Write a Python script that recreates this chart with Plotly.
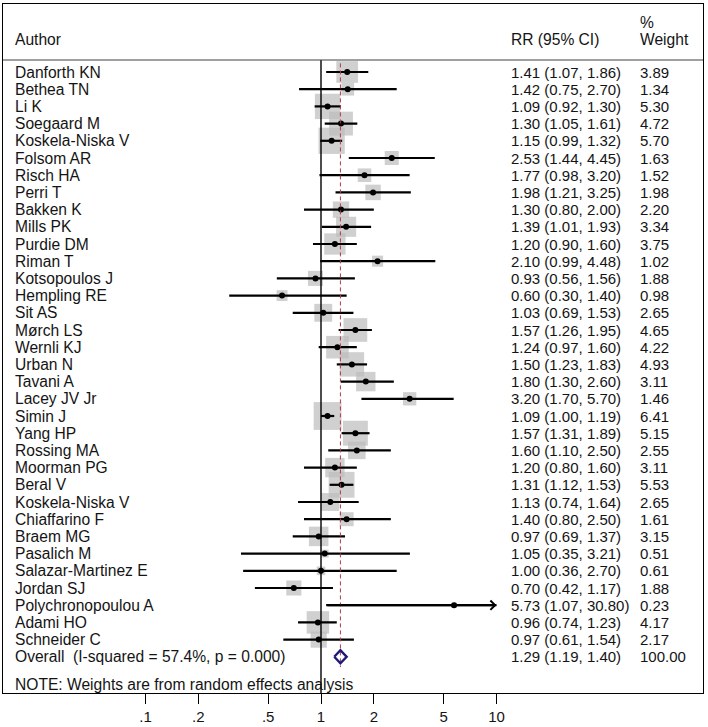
import math
import plotly.graph_objects as go

# ---------------- data ----------------
authors = [
    "Danforth KN", "Bethea TN", "Li K", "Soegaard M", "Koskela-Niska V",
    "Folsom AR", "Risch HA", "Perri T", "Bakken K", "Mills PK",
    "Purdie DM", "Riman T", "Kotsopoulos J", "Hempling RE", "Sit AS",
    "Mørch LS", "Wernli KJ", "Urban N", "Tavani A", "Lacey JV Jr",
    "Simin J", "Yang HP", "Rossing MA", "Moorman PG", "Beral V",
    "Koskela-Niska V", "Chiaffarino F", "Braem MG", "Pasalich M", "Salazar-Martinez E",
    "Jordan SJ", "Polychronopoulou A", "Adami HO", "Schneider C",
]
rr = [1.41, 1.42, 1.09, 1.30, 1.15, 2.53, 1.77, 1.98, 1.30, 1.39,
      1.20, 2.10, 0.93, 0.60, 1.03, 1.57, 1.24, 1.50, 1.80, 3.20,
      1.09, 1.57, 1.60, 1.20, 1.31, 1.13, 1.40, 0.97, 1.05, 1.00,
      0.70, 5.73, 0.96, 0.97]
ci_low = [1.07, 0.75, 0.92, 1.05, 0.99, 1.44, 0.98, 1.21, 0.80, 1.01,
          0.90, 0.99, 0.56, 0.30, 0.69, 1.26, 0.97, 1.23, 1.30, 1.70,
          1.00, 1.31, 1.10, 0.80, 1.12, 0.74, 0.80, 0.69, 0.35, 0.36,
          0.42, 1.07, 0.74, 0.61]
ci_high = [1.86, 2.70, 1.30, 1.61, 1.32, 4.45, 3.20, 3.25, 2.00, 1.93,
           1.60, 4.48, 1.56, 1.40, 1.53, 1.95, 1.60, 1.83, 2.60, 5.70,
           1.19, 1.89, 2.50, 1.60, 1.53, 1.64, 2.50, 1.37, 3.21, 2.70,
           1.17, 30.80, 1.23, 1.54]
weights = [3.89, 1.34, 5.30, 4.72, 5.70, 1.63, 1.52, 1.98, 2.20, 3.34,
           3.75, 1.02, 1.88, 0.98, 2.65, 4.65, 4.22, 4.93, 3.11, 1.46,
           6.41, 5.15, 2.55, 3.11, 5.53, 2.65, 1.61, 3.15, 0.51, 0.61,
           1.88, 0.23, 4.17, 2.17]

overall_label = "Overall\u00a0\u00a0(I-squared = 57.4%, p = 0.000)"
overall_rr, overall_low, overall_high, overall_weight = 1.29, 1.19, 1.40, 100.00

tick_vals = [0.1, 0.2, 0.5, 1, 2, 5, 10]
tick_text = [".1", ".2", ".5", "1", "2", "5", "10"]

header_author = "Author"
header_rr = "RR (95% CI)"
header_weight_1 = "%"
header_weight_2 = "Weight"
note_text = "NOTE: Weights are from random effects analysis"

# ---------------- layout helpers ----------------
W, H = 708, 727
ML, MR, MT, MB = 3, 5, 4, 34
ROW0_PX, ROW_STEP = 72.0, 17.2
X1_PX, DECADE_PX = 321.0, 175.5


def row_of(px):
    return (px - ROW0_PX) / ROW_STEP


def paper_x(px):
    return (px - ML) / (W - ML - MR)


n = len(authors)
rows = list(range(n))
overall_row = n
x_max = max(tick_vals)

y_top = row_of(MT)
y_bot = row_of(H - MB)
header_line_row = row_of(60)

TXT = "#141414"
FONT = "Liberation Sans, Arial, sans-serif"
FS_LABEL = 15.6
FS_NUM = 15

fig = go.Figure()

# weight boxes
fig.add_trace(go.Scatter(
    x=rr, y=rows, mode="markers",
    marker=dict(symbol="square", color="#bcbcbc",
                size=[11.0 * math.sqrt(w) for w in weights], line=dict(width=0)),
    hoverinfo="skip", showlegend=False))

# confidence intervals
cx, cy = [], []
for r, lo, hi in zip(rows, ci_low, ci_high):
    cx += [lo, min(hi, x_max), None]
    cy += [r, r, None]
fig.add_trace(go.Scatter(x=cx, y=cy, mode="lines",
                         line=dict(color="black", width=2.2),
                         hoverinfo="skip", showlegend=False))

# point estimates
fig.add_trace(go.Scatter(x=rr, y=rows, mode="markers",
                         marker=dict(symbol="circle", color="black", size=6),
                         hoverinfo="skip", showlegend=False))

# null line
fig.add_trace(go.Scatter(x=[1, 1], y=[header_line_row, y_bot], mode="lines",
                         line=dict(color="black", width=1.4),
                         hoverinfo="skip", showlegend=False))

# overall effect dashed line
fig.add_trace(go.Scatter(x=[overall_rr, overall_rr], y=[-0.5, overall_row + 0.6],
                         mode="lines",
                         line=dict(color="#b03a48", width=1, dash="4px,3px"),
                         hoverinfo="skip", showlegend=False))

# overall diamond
dh = 0.38
fig.add_trace(go.Scatter(
    x=[overall_low, overall_rr, overall_high, overall_rr, overall_low],
    y=[overall_row, overall_row - dh, overall_row, overall_row + dh, overall_row],
    mode="lines", line=dict(color="#1c1c78", width=2.4),
    hoverinfo="skip", showlegend=False))

annotations = []

# arrows for CIs running off the scale
for r, lo, hi in zip(rows, ci_low, ci_high):
    if hi > x_max:
        annotations.append(dict(
            x=math.log10(x_max), y=r, xref="x", yref="y",
            ax=math.log10(lo), ay=r, axref="x", ayref="y",
            text="", showarrow=True, arrowhead=4, arrowsize=0.9,
            arrowwidth=2, arrowcolor="black"))


def txt(text, px, row, size=FS_LABEL):
    annotations.append(dict(
        x=paper_x(px), y=row, xref="paper", yref="y", text=text,
        showarrow=False, xanchor="left", yanchor="middle",
        font=dict(family=FONT, size=size, color=TXT)))


# headers
txt(header_author, 13, row_of(39))
txt(header_rr, 509, row_of(39))
txt(header_weight_1, 638, row_of(22))
txt(header_weight_2, 638, row_of(39))

for r, a, v, lo, hi, w in zip(rows, authors, rr, ci_low, ci_high, weights):
    txt(a, 13, r)
    txt(f"{v:.2f} ({lo:.2f}, {hi:.2f})", 509, r, FS_NUM)
    txt(f"{w:.2f}", 638, r, FS_NUM)

txt(overall_label, 13, overall_row)
txt(f"{overall_rr:.2f} ({overall_low:.2f}, {overall_high:.2f})", 509, overall_row, FS_NUM)
txt(f"{overall_weight:.2f}", 638, overall_row, FS_NUM)

txt(note_text, 13, row_of(684))

fig.update_layout(
    width=W, height=H,
    margin=dict(l=ML, r=MR, t=MT, b=MB),
    paper_bgcolor="white", plot_bgcolor="white",
    annotations=annotations,
    shapes=[dict(type="line", xref="paper", yref="y", x0=0, x1=1,
                 y0=header_line_row, y1=header_line_row,
                 line=dict(color="#404040", width=1))],
    xaxis=dict(
        type="log",
        range=[(ML - X1_PX) / DECADE_PX, (W - MR - X1_PX) / DECADE_PX],
        tickmode="array", tickvals=tick_vals, ticktext=tick_text,
        ticks="outside", ticklen=10, tickwidth=1, tickcolor="black",
        tickfont=dict(family=FONT, size=15, color=TXT),
        showgrid=False, zeroline=False,
        showline=True, linecolor="black", linewidth=1.2, mirror=True,
        fixedrange=True,
    ),
    yaxis=dict(
        range=[y_bot, y_top], showticklabels=False, ticks="",
        showgrid=False, zeroline=False,
        showline=True, linecolor="black", linewidth=1.2, mirror=True,
        fixedrange=True,
    ),
)

fig.write_html(
    "out.html",
    config={"displayModeBar": False},
    post_script="document.body.style.margin='0px';document.body.style.overflow='hidden';",
)
